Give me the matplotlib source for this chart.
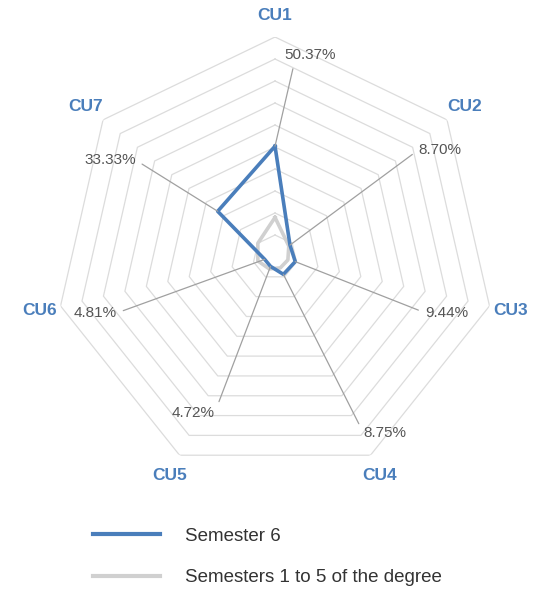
import matplotlib
matplotlib.use("Agg")
import matplotlib.pyplot as plt
import numpy as np

plt.rcParams['font.family'] = ['Liberation Sans', 'DejaVu Sans']

# data
categories = ["CU1", "CU2", "CU3", "CU4", "CU5", "CU6", "CU7"]
semester6 = [50.37, 8.70, 9.44, 8.75, 4.72, 4.81, 33.33]
semesters1to5 = [18.0, 8.0, 6.0, 5.5, 6.0, 8.0, 10.0]
value_labels = ["50.37%", "8.70%", "9.44%", "8.75%", "4.72%", "4.81%", "33.33%"]
series_names = ["Semester 6", "Semesters 1 to 5 of the degree"]

# label placement (angle in degrees from top, radius in % of scale)
label_theta = [9.8, 57.0, 108.0, 148.0, 207.7, 252.7, 300.4]
label_r = [93.2, 89.4, 82.0, 94.3, 80.0, 85.7, 87.0]

blue = "#4a7ebb"
light = "#d0d0d0"
grid_col = "#dcdcdc"
leader = "#a0a0a0"

n = len(categories)
angles = np.linspace(0, 2 * np.pi, n, endpoint=False)
closed = np.append(angles, angles[0])

fig = plt.figure(figsize=(5.4, 5.9), dpi=100)
ax = fig.add_axes([0.1019, 0.1915, 0.8148, 0.7458], projection="polar")
ax.set_theta_zero_location("N")
ax.set_theta_direction(-1)
ax.set_ylim(0, 100)
ax.axis("off")

# heptagon rings
for r in np.arange(10, 101, 10):
    ax.plot(closed, [r] * (n + 1), color=grid_col, lw=0.9, zorder=1)

ax.plot(closed, semesters1to5 + semesters1to5[:1], color=light, lw=2.6, zorder=3)
ax.plot(closed, semester6 + semester6[:1], color=blue, lw=2.6, zorder=4)

# category names
for a, name in zip(angles, categories):
    ax.text(a, 110, name, ha="center", va="center", fontsize=12.5,
            fontweight="bold", color=blue)

# value labels with leader lines
for a, v, txt, lt, lr in zip(angles, semester6, value_labels, label_theta, label_r):
    t = np.deg2rad(lt)
    if lt < 30:
        rel = (0.2, 0.0)
    elif lt < 180:
        rel = (0.0, 0.5)
    else:
        rel = (1.0, 0.5)
    ax.annotate(txt, xy=(a, v), xytext=(t, lr), ha="center", va="center",
                fontsize=11, color="#555555", zorder=5,
                arrowprops=dict(arrowstyle="-", color=leader, lw=0.9,
                                shrinkA=3, shrinkB=0, relpos=rel))

# legend
h1, = ax.plot([], [], color=blue, lw=3)
h2, = ax.plot([], [], color=light, lw=3)
fig.legend([h1, h2], series_names, loc="upper left",
           bbox_to_anchor=(0.173, 0.106), frameon=False, fontsize=13.5,
           handlelength=3.57, handletextpad=1.33, labelspacing=1.32,
           borderpad=0, borderaxespad=0, labelcolor="#333333")

fig.savefig("out.png", dpi=100, facecolor="white")
